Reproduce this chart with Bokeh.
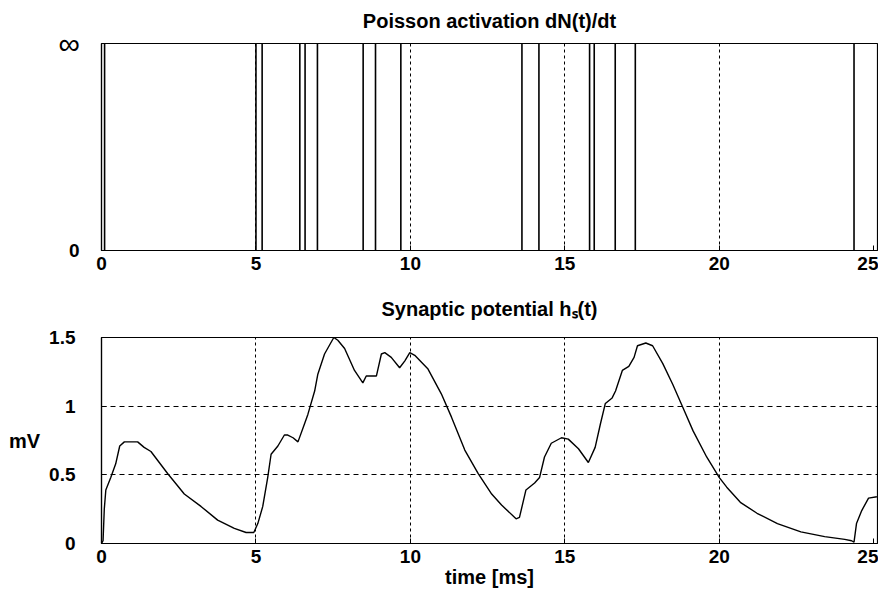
from bokeh.plotting import figure
from bokeh.layouts import column
from bokeh.models import FixedTicker, Range1d, LinearAxis
from bokeh.embed import file_html
from bokeh.resources import INLINE

# ---- data ----
spike_times = [0.1, 5.0, 5.2, 6.42, 6.59, 6.99, 8.47, 8.87, 9.69, 13.61, 14.16,
               15.80, 15.95, 16.63, 17.28, 24.36]

t_ms = [0.00, 0.05, 0.09, 0.14, 0.30, 0.46, 0.59, 0.74, 1.17, 1.38, 1.60, 2.14, 2.68,
        3.22, 3.76, 4.30, 4.68, 4.93, 5.06, 5.22, 5.38, 5.49, 5.71, 5.92, 6.03, 6.20,
        6.36, 6.57, 6.68, 6.90, 7.00, 7.22, 7.52, 7.65, 7.87, 8.19, 8.46, 8.57, 8.90,
        9.06, 9.17, 9.38, 9.65, 9.82, 9.98, 10.14, 10.57, 11.00, 11.33, 11.76, 12.19,
        12.63, 12.95, 13.42, 13.53, 13.74, 14.02, 14.18, 14.34, 14.56, 14.89, 15.11,
        15.44, 15.76, 15.98, 16.15, 16.31, 16.53, 16.64, 16.86, 17.07, 17.24, 17.35,
        17.62, 17.84, 18.17, 18.49, 18.82, 19.15, 19.59, 20.00, 20.24, 20.68, 21.22,
        21.88, 22.64, 23.41, 24.06, 24.28, 24.36, 24.44, 24.61, 24.83, 25.10]
h_mv = [0.00, 0.02, 0.25, 0.39, 0.48, 0.58, 0.71, 0.74, 0.74, 0.70, 0.67, 0.51, 0.36,
        0.27, 0.17, 0.11, 0.08, 0.08, 0.145, 0.27, 0.48, 0.65, 0.71, 0.79, 0.79, 0.77,
        0.74, 0.87, 0.94, 1.11, 1.23, 1.38, 1.50, 1.48, 1.42, 1.26, 1.17, 1.22, 1.22,
        1.38, 1.39, 1.355, 1.28, 1.33, 1.39, 1.37, 1.27, 1.09, 0.92, 0.68, 0.51,
        0.36, 0.28, 0.18, 0.19, 0.39, 0.44, 0.48, 0.63, 0.73, 0.77, 0.76,
        0.69, 0.59, 0.70, 0.87, 1.02, 1.06, 1.11, 1.26, 1.29, 1.355, 1.44,
        1.46, 1.44, 1.31, 1.16, 0.99, 0.82, 0.63, 0.48, 0.41, 0.30, 0.22,
        0.145, 0.085, 0.05, 0.03, 0.02, 0.01, 0.145, 0.24, 0.33, 0.34]

x_ticks = [0, 5, 10, 15, 20, 25]
x_labels = ["0", "5", "10", "15", "20", "25"]
x_grid = [5, 10, 15, 20]
top_y_ticks = [0, 1]
top_y_labels = ["0", "\u221e"]
bot_y_ticks = [0, 0.5, 1, 1.5]
bot_y_labels = ["0", "0.5", "1", "1.5"]
bot_y_grid = [0.5, 1]
top_title = "Poisson activation dN(t)/dt"
bot_title = "Synaptic potential h\u209b(t)"
x_title = "time [ms]"
y_title = "mV"

FONT = "Liberation Sans"
TICK_SIZE = "19px"
TITLE_SIZE = "20px"


def style(p, yticks, ylabels, ystand):
    p.outline_line_color = "black"
    p.outline_line_width = 1.2
    p.background_fill_color = "white"
    p.border_fill_color = "white"
    for ax in (p.xaxis[0], p.yaxis[0]):
        ax.axis_line_color = "black"
        ax.axis_line_width = 1.2
        ax.major_tick_in = 5
        ax.major_tick_out = 0
        ax.minor_tick_line_color = None
        ax.major_tick_line_color = "black"
        ax.major_label_text_font = FONT
        ax.major_label_text_font_size = TICK_SIZE
        ax.major_label_text_font_style = "bold"
        ax.major_label_text_color = "black"
    p.xaxis.ticker = FixedTicker(ticks=x_ticks)
    p.xaxis.major_label_overrides = {k: v for k, v in zip(x_ticks, x_labels)}
    p.xaxis.major_label_standoff = 6
    p.yaxis.ticker = FixedTicker(ticks=yticks)
    p.yaxis.major_label_overrides = {k: v for k, v in zip(yticks, ylabels)}
    p.yaxis.major_label_standoff = ystand
    p.xgrid.ticker = FixedTicker(ticks=x_grid)
    p.xgrid.grid_line_color = "black"
    p.xgrid.grid_line_dash = "3 3"
    p.xgrid.grid_line_width = 1


def add_title(p, text, standoff):
    # title drawn as the label of an empty axis above the frame
    t = LinearAxis(ticker=FixedTicker(ticks=[]), axis_label=text,
                   axis_line_color=None, major_tick_line_color=None,
                   minor_tick_line_color=None, major_tick_out=0, major_tick_in=0,
                   axis_label_standoff=standoff,
                   axis_label_text_font=FONT, axis_label_text_font_size=TITLE_SIZE,
                   axis_label_text_font_style="bold", axis_label_text_color="black")
    p.add_layout(t, "above")


# ---- top panel ----
p1 = figure(width=878, height=285, output_backend="svg", toolbar_location=None,
            x_range=Range1d(0, 25.12), y_range=Range1d(0, 1),
            min_border_left=101, min_border_right=1, min_border_top=43, min_border_bottom=35)
style(p1, [top_y_ticks[0]], [top_y_labels[0]], 22)
p1.ygrid.visible = False
# the infinity tick label (top of the axis), drawn larger as in the original
ya1 = p1.left[0]
ya1.axis_label = top_y_labels[1]
ya1.axis_label_orientation = "horizontal"
ya1.axis_label_text_font = FONT
ya1.axis_label_text_font_size = "30px"
ya1.axis_label_text_font_style = "normal"
ya1.axis_label_text_color = "black"
ya1.axis_label_standoff = -14
try:
    ya1.axis_label_align = "end"
except Exception:
    pass
add_title(p1, top_title, 12)
p1.segment(x0=spike_times, y0=[0] * len(spike_times), x1=spike_times,
           y1=[1] * len(spike_times), line_color="black", line_width=1.6)

# ---- bottom panel ----
p2 = figure(width=878, height=311, output_backend="svg", toolbar_location=None,
            x_range=Range1d(0, 25.12), y_range=Range1d(0, 1.5),
            min_border_left=101, min_border_right=1, min_border_top=52, min_border_bottom=53)
style(p2, bot_y_ticks, bot_y_labels, 26)
p2.ygrid.ticker = FixedTicker(ticks=bot_y_grid)
p2.ygrid.grid_line_color = "black"
p2.ygrid.grid_line_dash = "5 4"
p2.ygrid.grid_line_width = 1
xa2 = p2.below[0]
xa2.axis_label = x_title
xa2.axis_label_text_font = FONT
xa2.axis_label_text_font_size = TITLE_SIZE
xa2.axis_label_text_font_style = "bold"
xa2.axis_label_text_color = "black"
xa2.axis_label_standoff = 0
ya2 = p2.left[0]
ya2.axis_label = y_title
ya2.axis_label_orientation = "horizontal"
ya2.axis_label_text_font = FONT
ya2.axis_label_text_font_size = TITLE_SIZE
ya2.axis_label_text_font_style = "bold"
ya2.axis_label_text_color = "black"
ya2.axis_label_standoff = 6
add_title(p2, bot_title, 18)
p2.line(t_ms, h_mv, line_color="black", line_width=1.4)

layout = column(p1, p2, spacing=0)
open("out.html", "w").write(file_html(layout, INLINE))
